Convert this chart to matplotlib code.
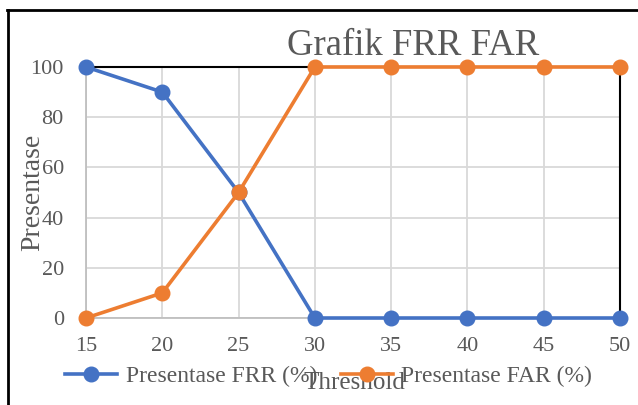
import matplotlib.pyplot as plt
from matplotlib.lines import Line2D

plt.rcParams['font.family'] = ['Liberation Serif', 'DejaVu Serif']

threshold = [15, 20, 25, 30, 35, 40, 45, 50]
frr = [100, 90, 50, 0, 0, 0, 0, 0]
far = [0, 10, 50, 100, 100, 100, 100, 100]
yticks = [0, 20, 40, 60, 80, 100]

blue = '#4472C4'
orange = '#ED7D31'
txt = '#595959'

fig = plt.figure(figsize=(6.38, 4.05), dpi=100)
ax = fig.add_axes([0.1348, 0.2148, 0.8370, 0.6198])

ax.plot(threshold, frr, color=blue, lw=2.6, marker='o', ms=10.5, label='Presentase FRR (%)', zorder=3, clip_on=False)
ax.plot(threshold, far, color=orange, lw=2.6, marker='o', ms=10.5, label='Presentase FAR (%)', zorder=3, clip_on=False)

ax.set_xlim(15, 50)
ax.set_ylim(0, 100)
ax.set_xticks(threshold)
ax.set_yticks(yticks)
ax.grid(True, color='#D9D9D9', lw=1.3)
ax.set_axisbelow(True)
ax.tick_params(length=0, labelsize=16, labelcolor=txt)
ax.tick_params(axis='x', pad=14)
ax.tick_params(axis='y', pad=16)

for s in ['left', 'bottom']:
    ax.spines[s].set_color('#BFBFBF')
    ax.spines[s].set_linewidth(1.3)
for s in ['top', 'right']:
    ax.spines[s].set_color('black')
    ax.spines[s].set_linewidth(1.5)

fig.text(0.052, 0.526, 'Presentase', fontsize=20, color=txt, ha='center', va='center', rotation=90)
fig.text(0.556, 0.055, 'Threshold', fontsize=18, color=txt, ha='center', va='center')
fig.text(0.647, 0.888, 'Grafik FRR FAR', fontsize=26.5, color=txt, ha='center', va='center')

fig.legend(loc='center', bbox_to_anchor=(0.515, 0.07), ncol=2, frameon=False,
           fontsize=17, labelcolor=txt, handlelength=2.2, handletextpad=0.35,
           columnspacing=1.0)

# outer frame
fig.add_artist(Line2D([0.011, 1.0], [0.975, 0.975], color='black', lw=2, transform=fig.transFigure))
fig.add_artist(Line2D([0.0125, 0.0125], [0.0, 0.975], color='black', lw=2, transform=fig.transFigure))

fig.savefig('out.png', dpi=100)
